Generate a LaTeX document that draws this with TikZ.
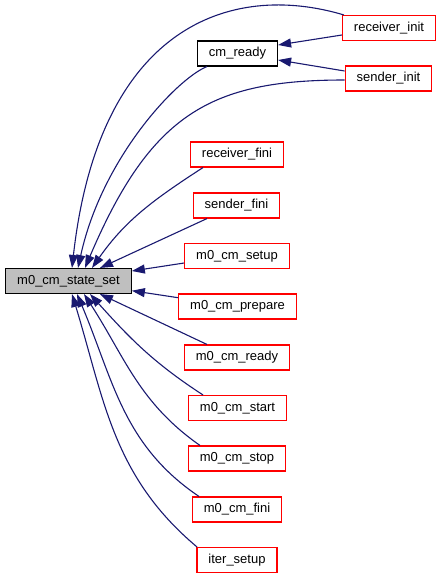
\documentclass[tikz,border=0pt]{standalone}
\usepackage{fontspec}
\setmainfont{Liberation Sans}
\usetikzlibrary{arrows.meta}

\definecolor{midnight}{RGB}{25,25,112}
\definecolor{hl}{RGB}{191,191,191}

\tikzset{
  fn/.style={draw=red, line width=1.1pt, rectangle, minimum height=25pt, inner xsep=11.5pt, inner ysep=0pt,
    font=\fontsize{13pt}{15pt}\selectfont},
  known/.style={fn, draw=black},
  cur/.style={known, fill=hl},
  call/.style={draw=midnight, line width=1.1pt, ->, >={Triangle[length=13pt,width=9pt]}, midnight}
}

\begin{document}
\begin{tikzpicture}[x=1pt,y=1pt]
\useasboundingbox (0,0) rectangle (440,-579);
% functions
\node[cur]   (ss)    at (68.5,-281)  {m0\_cm\_state\_set};
\node[known] (cr)    at (237.5,-53.5) {cm\_ready};
\node[fn]    (ri)    at (389,-28)    {receiver\_init};
\node[fn]    (si)    at (388.5,-78.5) {sender\_init};
\node[fn]    (rf)    at (237,-154.5) {receiver\_fini};
\node[fn]    (sf)    at (236.5,-205.5) {sender\_fini};
\node[fn]    (setup) at (237,-256)   {m0\_cm\_setup};
\node[fn]    (prep)  at (237.5,-306.5) {m0\_cm\_prepare};
\node[fn]    (ready) at (237,-357.5) {m0\_cm\_ready};
\node[fn]    (start) at (237.5,-408) {m0\_cm\_start};
\node[fn]    (stop)  at (237,-458.5) {m0\_cm\_stop};
\node[fn]    (fini)  at (237,-509.5) {m0\_cm\_fini};
\node[fn]    (iter)  at (237,-560)   {iter\_setup};
% calls to cm_ready
\draw[call] ([yshift=-7pt]ri.west) -- ([yshift=8.5pt]cr.east);
\draw[call] ([yshift=7.5pt]si.west) -- ([yshift=-6.5pt]cr.east);
% calls to m0_cm_state_set from above
\draw[call] ([xshift=2pt]ri.north west) .. controls +(-114,34) and +(27,241) .. ([xshift=3.5pt]ss.north);
\draw[call] ([xshift=-30.5pt]cr.south) .. controls +(-30,-12) and +(24,110) .. ([xshift=9.5pt]ss.north);
\draw[call] ([yshift=-1.5pt]si.west) .. controls +(-133,0) and +(66,155) .. ([xshift=16.5pt]ss.north);
\draw[call] ([xshift=-34pt]rf.south) to[out=213, in=55] ([xshift=23.5pt]ss.north);
\draw[call] ([xshift=-29.5pt]sf.south) -- ([xshift=31.5pt]ss.north);
% calls from the side
\draw[call] ([yshift=-7pt]setup.west) -- ([yshift=10pt]ss.east);
\draw[call] ([yshift=8.8pt]prep.west) -- ([yshift=-9.7pt]ss.east);
% calls from below
\draw[call] ([xshift=-30pt]ready.north) -- ([xshift=31.5pt]ss.south);
\draw[call] ([xshift=-34.5pt]start.north) to[out=147, in=312] ([xshift=21.5pt]ss.south);
\draw[call] ([xshift=-37pt]stop.north) to[out=145, in=303] ([xshift=15.5pt]ss.south);
\draw[call] ([xshift=-38pt]fini.north) to[out=146, in=293] ([xshift=8.5pt]ss.south);
\draw[call] ([xshift=-40pt]iter.north) to[out=140, in=287] ([xshift=3.5pt]ss.south);
\end{tikzpicture}
\end{document}
